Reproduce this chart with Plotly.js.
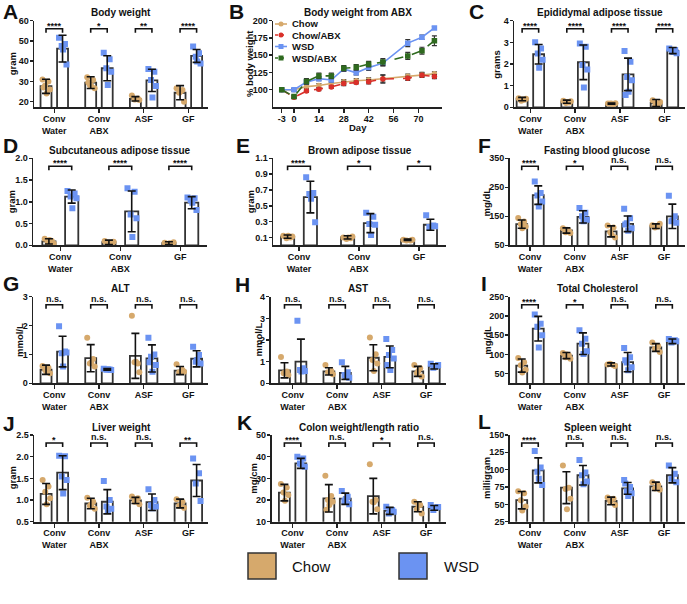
<!DOCTYPE html>
<html><head><meta charset="utf-8">
<script src="https://cdn.plot.ly/plotly-3.0.1.min.js"></script>
<style>html,body{margin:0;padding:0;background:#fff}#chart{width:687px;height:604px}</style>
</head><body><div id="chart"></div>
<script>
// ================= DATA =================
const groups4 = ['Conv<br>Water', 'Conv<br>ABX', 'ASF', 'GF'];
const groups3 = ['Conv<br>Water', 'Conv<br>ABX', 'GF'];

// A Body weight (gram)
const A_chowMean = [27.6, 29.4, 21.4, 24.4];
const A_chowSD = [3.5, 2.9, 1.1, 3.5];
const A_wsdMean = [46.2, 36.5, 30.5, 42.6];
const A_wsdSD = [6.6, 6.2, 5.5, 3.2];
const A_chowPts = [[31, 30, 28, 26, 24, 27], [32, 30.7, 28.2, 26.6, 27.7, 29.5], [23, 21.5, 21, 20.8, 21.2], [26.6, 25.8, 24.4, 20, 25]];
const A_wsdPts = [[51.6, 48.5, 47.5, 38.4, 45.8], [44.2, 40.9, 36.5, 34.8, 28.2], [36.1, 34.8, 30.7, 27.7, 22], [47.2, 43.9, 42.2, 38.9, 39.8]];
const A_sig = ['****', '*', '**', '****'];

// B Body weight from ABX (% body weight)
const B_days = [-3, 0, 7, 14, 21, 28, 35, 42, 50, 64, 72, 79];
const B_chow = [100, 100, 104.5, 106, 109, 111.5, 113, 114, 116, 119.5, 122, 123];
const B_chowErr = [0, 2, 3, 3, 3, 3, 3, 3, 5, 3, 3, 3];
const B_chowABX = [100, 89, 98, 100.5, 104, 109, 110.5, 111.5, 115.5, 116.5, 121, 119];
const B_chowABXErr = [0, 2, 2, 2, 2, 3, 2, 3, 6, 3, 3, 3];
const B_wsd = [100, 100, 111, 116, 114, 130, 124.5, 132, 138.5, 167.5, 176, 189.5];
const B_wsdErr = [0, 2, 3, 3, 3, 3, 3, 4, 4, 5, 3, 2];
const B_wsdABX = [100, 90, 112, 120, 120, 131, 132.5, 137, 140, 149, 156.5, 171];
const B_wsdABXErr = [0, 2, 4, 4, 4, 4, 4, 4, 5, 5, 5, 7];
const B_series = ['Chow', 'Chow/ABX', 'WSD', 'WSD/ABX'];
const B_xticks = [-3, 0, 14, 28, 42, 56, 70];

// C Epididymal adipose tissue (grams)
const C_chowMean = [0.38, 0.26, 0.17, 0.20];
const C_chowSD = [0.08, 0.07, 0.03, 0.16];
const C_wsdMean = [2.45, 2.08, 1.52, 2.62];
const C_wsdSD = [0.45, 0.80, 0.75, 0.14];
const C_chowPts = [[0.42, 0.35, 0.30, 0.40, 0.36], [0.30, 0.22, 0.20, 0.28, 0.25], [0.18, 0.15, 0.17, 0.19, 0.16], [0.32, 0.15, 0.10, 0.25, 0.18]];
const C_wsdPts = [[3.0, 2.72, 2.49, 2.2, 1.83], [2.95, 2.8, 1.95, 1.75, 0.92], [2.6, 2.1, 1.4, 1.25, 0.72, 0.57], [2.72, 2.65, 2.6, 2.5, 2.55]];
const C_sig = ['****', '****', '****', '****'];

// D Subcutaneous adipose tissue (gram)
const D_chowMean = [0.09, 0.07, 0.05];
const D_chowSD = [0.06, 0.05, 0.03];
const D_wsdMean = [1.12, 0.78, 0.98];
const D_wsdSD = [0.15, 0.47, 0.14];
const D_chowPts = [[0.15, 0.10, 0.07, 0.04, 0.12], [0.10, 0.05, 0.03, 0.08, 0.06], [0.06, 0.04, 0.03, 0.07, 0.05]];
const D_wsdPts = [[1.25, 1.19, 1.12, 1.08, 0.85], [1.31, 1.23, 0.71, 0.62, 0.19], [1.10, 1.08, 1.04, 0.81, 0.98]];
const D_sig = ['****', '****', '****'];

// E Brown adipose tissue (gram)
const E_chowMean = [0.11, 0.10, 0.07];
const E_chowSD = [0.02, 0.02, 0.01];
const E_wsdMean = [0.61, 0.28, 0.26];
const E_wsdSD = [0.20, 0.12, 0.07];
const E_chowPts = [[0.12, 0.10, 0.09, 0.11, 0.12], [0.10, 0.09, 0.08, 0.11, 0.10], [0.07, 0.06, 0.06, 0.07]];
const E_wsdPts = [[0.86, 0.66, 0.65, 0.29, 0.59], [0.41, 0.36, 0.27, 0.26, 0.13], [0.38, 0.25, 0.23, 0.24]];
const E_sig = ['****', '*', '*'];

// F Fasting blood glucose (mg/dL)
const F_chowMean = [123, 101, 98, 116];
const F_chowSD = [14, 9, 19, 8];
const F_wsdMean = [223, 148, 124, 150];
const F_wsdSD = [32, 21, 27, 42];
const F_chowPts = [[144, 132, 123, 115, 109], [109, 100, 95, 92, 104], [118, 111, 95, 77, 86], [119, 115, 111, 124]];
const F_wsdPts = [[270, 230, 222, 201, 184], [179, 162, 150, 138, 133], [176, 143, 126, 109, 100, 122], [221, 150, 133, 128, 136]];
const F_sig = ['****', '*', 'n.s.', 'n.s.'];

// G ALT (mmol/L)
const G_chowMean = [0.47, 0.87, 0.95, 0.44];
const G_chowSD = [0.16, 0.47, 0.78, 0.14];
const G_wsdMean = [1.1, 0.48, 0.86, 0.85];
const G_wsdSD = [0.53, 0.03, 0.47, 0.28];
const G_chowPts = [[0.6, 0.54, 0.46, 0.35, 0.4], [1.58, 0.84, 0.69, 0.58, 0.72], [2.34, 0.69, 0.73, 0.38, 0.75], [0.66, 0.46, 0.38, 0.4]];
const G_wsdPts = [[1.98, 1.1, 1.04, 1.07, 0.58], [0.5, 0.48, 0.47, 0.46, 0.49], [1.58, 1.0, 0.92, 0.63, 0.4, 0.73], [1.27, 0.98, 0.75, 0.69, 0.81]];
const G_sig = ['n.s.', 'n.s.', 'n.s.', 'n.s.'];

// H AST (mmol/L)
const H_chowMean = [0.6, 0.55, 1.18, 0.55];
const H_chowSD = [0.35, 0.17, 0.6, 0.23];
const H_wsdMean = [1.0, 0.48, 1.22, 0.78];
const H_wsdSD = [1.04, 0.3, 0.5, 0.12];
const H_chowPts = [[1.22, 0.54, 0.46, 0.38, 0.5], [0.85, 0.57, 0.51, 0.42], [2.12, 1.34, 1.08, 0.92, 0.57], [0.84, 0.69, 0.46, 0.31, 0.57]];
const H_wsdPts = [[2.89, 0.69, 0.62, 0.57, 0.54], [0.97, 0.51, 0.38, 0.26, 0.31], [2.05, 1.54, 1.31, 1.15, 0.62, 0.85], [0.9, 0.8, 0.72, 0.85]];
const H_sig = ['n.s.', 'n.s.', 'n.s.', 'n.s.'];

// I Total Cholesterol (mg/dL)
const I_chowMean = [71, 97, 74, 118];
const I_chowSD = [17, 8, 4, 10];
const I_wsdMean = [167, 128, 80, 134];
const I_wsdSD = [32, 28, 25, 6];
const I_chowPts = [[91, 80, 72, 60, 53], [104, 98, 93, 89, 100], [74, 72, 76, 70], [131, 122, 115, 106]];
const I_wsdPts = [[204, 180, 172, 150, 118], [163, 141, 128, 108, 101], [117, 93, 79, 67, 59, 85], [140, 137, 131, 134]];
const I_sig = ['****', '*', 'n.s.', 'n.s.'];

// J Liver weight (gram)
const J_chowMean = [1.14, 0.92, 0.99, 0.92];
const J_chowSD = [0.24, 0.12, 0.07, 0.1];
const J_wsdMean = [1.63, 0.96, 0.95, 1.45];
const J_wsdSD = [0.39, 0.28, 0.19, 0.37];
const J_chowPts = [[1.46, 1.31, 1.19, 1.04, 0.9], [1.05, 0.96, 0.87, 0.8, 0.9], [1.08, 1.04, 0.96, 0.9, 1.0], [1.02, 0.96, 0.87, 0.82]];
const J_wsdPts = [[2.02, 2.01, 1.54, 1.46, 1.15], [1.44, 1.0, 0.85, 0.8, 0.77], [1.25, 1.0, 0.88, 0.85, 0.81], [1.96, 1.62, 1.38, 0.98]];
const J_sig = ['*', 'n.s.', 'n.s.', '**'];

// K Colon weight/length ratio (mg/cm)
const K_chowMean = [23.4, 20.8, 21.8, 16.9];
const K_chowSD = [3.8, 6.3, 8.2, 2.3];
const K_wsdMean = [36.9, 20.6, 15.0, 16.4];
const K_wsdSD = [2.3, 2.6, 1.6, 1.1];
const K_chowPts = [[27.4, 25.8, 23.5, 22.3, 19.7], [31.2, 21.8, 20, 19.2, 17.7, 15.5], [36.5, 20, 19.2, 15.8, 19], [19.2, 17.7, 15.8, 13.8, 18]];
const K_wsdPts = [[40, 39.2, 36.9, 35.4, 36.5], [24.2, 21.5, 19.5, 18, 20.5], [16.9, 15.4, 13.8, 14.6, 15], [17.7, 16.5, 15.4, 16.8]];
const K_sig = ['****', 'n.s.', '*', 'n.s.'];

// L Spleen weight (milligram)
const L_chowMean = [56, 74, 55, 76];
const L_chowSD = [12.5, 23, 5.5, 6];
const L_wsdMean = [99, 92, 73, 92];
const L_wsdSD = [18, 14, 8.5, 11];
const L_chowPts = [[69, 66, 56, 47, 41], [106, 74, 72, 58, 43], [60, 58, 54, 49], [82, 78, 73, 71]];
const L_wsdPts = [[127, 103, 97, 78, 87], [114, 96, 92, 83, 79], [85, 75, 69, 66, 62, 80], [106, 94, 87, 82]];
const L_sig = ['****', 'n.s.', 'n.s.', 'n.s.'];

const legendLabels = ['Chow', 'WSD'];

// ================= STYLE / LAYOUT =================
const W = 687, H = 604;
const px = x => x / W, py = y => 1 - y / H;
const TAN = '#D6A96C', BLUE = '#6B93F2', RED = '#D9302A', GREEN = '#2F6A1F', DARK = '#222';
const FONT = '"Liberation Sans", Arial, sans-serif';
const JIT = [-0.32, 0.22, -0.08, 0.36, 0.05, -0.22, 0.14];
const R1 = [20.7, 107.3], R2 = [158.3, 245.3], R3 = [296.7, 383.3], R4 = [435, 521.7];
// panel B draws the pre-treatment segment (days < 0) stretched, as in the original figure
const PRE_STRETCH = 2.3;
const dayPos = d => (d < 0 ? d * PRE_STRETCH : d);

const panels = [
  {ax: 1, L: 'A', title: 'Body weight', yt: 'gram', cats: groups4, d: [A_chowMean, A_chowSD, A_wsdMean, A_wsdSD, A_chowPts, A_wsdPts, A_sig],
   xd: [34.3, 208], yd: R1, xr: [-0.447, 3.44], yr: [17.2, 60], tv: [20, 30, 40, 50, 60], ytx: 13.3, lx: 1, ly: 11.5, ty: 12.7},
  {ax: 3, L: 'C', title: 'Epididymal adipose tissue', yt: 'grams', cats: groups4, d: [C_chowMean, C_chowSD, C_wsdMean, C_wsdSD, C_chowPts, C_wsdPts, C_sig],
   xd: [514.3, 685], yd: R1, xr: [-0.36, 3.46], yr: [0, 4], tv: [0, 1, 2, 3, 4], ytx: 496.7, lx: 467, ly: 12, ty: 12.7},
  {ax: 4, L: 'D', title: 'Subcutaneous adipose tissue', yt: 'gram', cats: groups3, d: [D_chowMean, D_chowSD, D_wsdMean, D_wsdSD, D_chowPts, D_wsdPts, D_sig],
   xd: [33.3, 207], yd: R2, xr: [-0.45, 2.445], yr: [0, 2], tv: [0, 0.5, 1, 1.5, 2], fmt: '.1f', ytx: 11.5, lx: 1, ly: 145, ty: 150, three: true},
  {ax: 5, L: 'E', title: 'Brown adipose tissue', yt: 'gram', cats: groups3, d: [E_chowMean, E_chowSD, E_wsdMean, E_wsdSD, E_chowPts, E_wsdPts, E_sig],
   xd: [273.3, 446], yd: R2, xr: [-0.428, 2.45], yr: [0, 1.1], tv: [0.1, 0.3, 0.5, 0.7, 0.9, 1.1], fmt: '.1f', ytx: 250.5, lx: 234, ly: 145, ty: 150, three: true},
  {ax: 6, L: 'F', title: 'Fasting blood glucose', yt: 'mg/dL', cats: groups4, d: [F_chowMean, F_chowSD, F_wsdMean, F_wsdSD, F_chowPts, F_wsdPts, F_sig],
   xd: [510, 685], yd: R2, xr: [-0.447, 3.468], yr: [50, 350], tv: [50, 150, 250, 350], ytx: 486.7, lx: 476, ly: 145, ty: 150},
  {ax: 7, L: 'G', title: 'ALT', yt: 'mmol/L', cats: groups4, d: [G_chowMean, G_chowSD, G_wsdMean, G_wsdSD, G_chowPts, G_wsdPts, G_sig],
   xd: [33.3, 208], yd: R3, xr: [-0.47, 3.44], yr: [0, 3], tv: [0, 1, 2, 3], ytx: 19, lx: 1, ly: 283, ty: 288.3},
  {ax: 8, L: 'H', title: 'AST', yt: 'mmol/L', cats: groups4, d: [H_chowMean, H_chowSD, H_wsdMean, H_wsdSD, H_chowPts, H_wsdPts, H_sig],
   xd: [270.7, 446], yd: R3, xr: [-0.495, 3.45], yr: [0, 4], tv: [0, 1, 2, 3, 4], ytx: 257.5, lx: 233, ly: 284, ty: 288.3},
  {ax: 9, L: 'I', title: 'Total Cholesterol', yt: 'mg/dL', cats: groups4, d: [I_chowMean, I_chowSD, I_wsdMean, I_wsdSD, I_chowPts, I_wsdPts, I_sig],
   xd: [510, 685], yd: R3, xr: [-0.447, 3.468], yr: [25, 250], tv: [50, 100, 150, 200, 250], ytx: 486.7, lx: 479, ly: 283, ty: 288.3},
  {ax: 10, L: 'J', title: 'Liver weight', yt: 'gram', cats: groups4, d: [J_chowMean, J_chowSD, J_wsdMean, J_wsdSD, J_chowPts, J_wsdPts, J_sig],
   xd: [34.3, 208], yd: R4, xr: [-0.45, 3.44], yr: [0.5, 2.5], tv: [0.5, 1, 1.5, 2, 2.5], fmt: '.1f', ytx: 12, lx: 1, ly: 423, ty: 427.3},
  {ax: 11, L: 'K', title: 'Colon weight/length ratio', yt: 'mg/cm', cats: groups4, d: [K_chowMean, K_chowSD, K_wsdMean, K_wsdSD, K_chowPts, K_wsdPts, K_sig],
   xd: [271.7, 446], yd: R4, xr: [-0.47, 3.45], yr: [10, 50], tv: [10, 20, 30, 40, 50], ytx: 253.3, lx: 235, ly: 422.5, ty: 427.3},
  {ax: 12, L: 'L', title: 'Spleen weight', yt: 'milligram', cats: groups4, d: [L_chowMean, L_chowSD, L_wsdMean, L_wsdSD, L_chowPts, L_wsdPts, L_sig],
   xd: [510, 685], yd: R4, xr: [-0.447, 3.468], yr: [25, 150], tv: [25, 50, 75, 100, 125, 150], ytx: 486.7, lx: 476, ly: 421.5, ty: 427.3}
];

const traces = [], annotations = [], shapes = [];
const layout = {
  width: W, height: H, autosize: false, margin: {l: 0, r: 0, t: 0, b: 0},
  paper_bgcolor: '#fff', plot_bgcolor: 'rgba(0,0,0,0)', showlegend: false,
  barmode: 'overlay', font: {family: FONT, color: '#111'}
};
const tickFont = {family: FONT, size: 9, color: '#111', weight: 700};

function axisBase() {
  return {ticks: 'outside', ticklen: 4, tickwidth: 1.5, tickcolor: DARK, showline: true, linecolor: DARK, linewidth: 1.8,
    showgrid: false, zeroline: false, tickfont: tickFont, fixedrange: true, tickangle: 0};
}
function addText(text, x, y, size, opts) {
  annotations.push(Object.assign({text, x: px(x), y: py(y), xref: 'paper', yref: 'paper', showarrow: false,
    xanchor: 'center', yanchor: 'middle', font: {family: FONT, size, color: '#111', weight: 700}}, opts || {}));
}
function frame(p) {
  const s = p.ax === 1 ? '' : p.ax;
  layout['xaxis' + s] = Object.assign(axisBase(), {domain: [px(p.xd[0]), px(p.xd[1])], range: p.xr, anchor: 'y' + s, ticklabelstandoff: -2});
  layout['yaxis' + s] = Object.assign(axisBase(), {domain: [py(p.yd[1]), py(p.yd[0])], range: p.yr, tickvals: p.tv, anchor: 'x' + s, ticklen: 3, ticklabelstandoff: -1});
  if (p.fmt) layout['yaxis' + s].tickformat = p.fmt;
  addText(p.title, (p.xd[0] + p.xd[1]) / 2, p.ty, 10);
  addText(p.yt, p.ytx, (p.yd[0] + p.yd[1]) / 2, 9.5, {textangle: -90});
  addText(p.L, p.lx, p.ly, 21, {xanchor: 'left'});
  return s;
}

panels.forEach(p => {
  const s = frame(p);
  const xa = 'x' + s, ya = 'y' + s;
  const [cm, cs, wm, ws, cp, wp, sig] = p.d;
  const off = p.three ? 0.19 : 0.185, bw = p.three ? 0.22 : 0.245;
  const idx = cm.map((_, i) => i);
  layout['xaxis' + s].tickvals = idx;
  layout['xaxis' + s].ticktext = p.cats;
  const xc = idx.map(i => i - off), xw = idx.map(i => i + off);
  [[xc, cm], [xw, wm]].forEach(([xx, yy]) => traces.push({type: 'bar', x: xx, y: yy, width: bw, xaxis: xa, yaxis: ya,
    marker: {color: '#fff', line: {color: '#333', width: 1.8}}, hoverinfo: 'skip'}));
  const spread = (arr, xs) => {
    const X = [], Y = [];
    arr.forEach((g, i) => g.forEach((v, j) => { X.push(xs[i] + JIT[j % JIT.length] * bw); Y.push(v); }));
    return [X, Y];
  };
  const [cx, cy] = spread(cp, xc), [wx, wy] = spread(wp, xw);
  traces.push({type: 'scatter', mode: 'markers', x: cx, y: cy, xaxis: xa, yaxis: ya, marker: {symbol: 'circle', size: 6, color: TAN}, hoverinfo: 'skip'});
  traces.push({type: 'scatter', mode: 'markers', x: wx, y: wy, xaxis: xa, yaxis: ya, marker: {symbol: 'square', size: 6, color: BLUE}, hoverinfo: 'skip'});
  [[xc, cm, cs], [xw, wm, ws]].forEach(([xx, yy, ee]) => traces.push({type: 'scatter', mode: 'markers', x: xx, y: yy, xaxis: xa, yaxis: ya,
    marker: {size: 1, color: 'rgba(0,0,0,0)'}, error_y: {type: 'data', array: ee, visible: true, color: '#111', thickness: 1.6, width: 4}, hoverinfo: 'skip', cliponaxis: false}));
  // significance brackets
  const hpx = p.yd[1] - p.yd[0];
  const yTop = 1 - 8 / hpx, yLeg = 1 - 12 / hpx;
  sig.forEach((t, i) => {
    shapes.push({type: 'path', xref: xa, yref: ya + ' domain', path: `M${xc[i]},${yLeg} L${xc[i]},${yTop} L${xw[i]},${yTop} L${xw[i]},${yLeg}`,
      line: {color: '#111', width: 1.6}});
    annotations.push({text: t, x: i, xref: xa, y: yTop, yref: ya + ' domain', showarrow: false, xanchor: 'center', yanchor: 'bottom',
      yshift: t.startsWith('*') ? -4 : -1, font: {family: FONT, size: 9, color: '#111', weight: 700}});
  });
});

// ---- Panel B: line chart ----
(function () {
  const p = {ax: 2, L: 'B', title: 'Body weight from ABX', yt: '% body weight', xd: [273.3, 441.7], yd: R1, xr: [-11.65, 83.1], yr: [74.5, 200],
    tv: [100, 125, 150, 175, 200], ytx: 250, lx: 227, ly: 11.5, ty: 12.7};
  frame(p);
  layout.xaxis2.tickvals = B_xticks.map(dayPos);
  layout.xaxis2.ticktext = B_xticks.map(String);
  addText('Day', (p.xd[0] + p.xd[1]) / 2, 127, 9.5);
  const xs = B_days.map(dayPos);
  const defs = [
    [B_chow, B_chowErr, TAN, 'solid', 'circle'],
    [B_chowABX, B_chowABXErr, RED, 'dash', 'circle'],
    [B_wsd, B_wsdErr, BLUE, 'solid', 'square'],
    [B_wsdABX, B_wsdABXErr, GREEN, 'dash', 'square']
  ];
  defs.forEach(([y, e, c, dash, sym], k) => {
    traces.push({type: 'scatter', mode: 'lines+markers', x: xs, y, name: B_series[k], xaxis: 'x2', yaxis: 'y2',
      line: {color: c, width: 1.6, dash}, marker: {color: c, size: 5.5, symbol: sym},
      error_y: {type: 'data', array: e, visible: true, color: '#333', thickness: 1.2, width: 2.5}, hoverinfo: 'skip'});
    const ly = [24, 35, 46.5, 58][k];
    shapes.push({type: 'line', xref: 'paper', yref: 'paper', x0: px(275), x1: px(287), y0: py(ly), y1: py(ly), line: {color: c, width: 1.6, dash: dash === 'dash' ? 'dot' : 'solid'}});
    shapes.push({type: sym === 'circle' ? 'circle' : 'rect', xref: 'paper', yref: 'paper', x0: px(278.5), x1: px(283.5), y0: py(ly + 2.5), y1: py(ly - 2.5), fillcolor: c, line: {width: 0}});
    addText(B_series[k], 290, ly, 9.5, {xanchor: 'left'});
  });
})();

// ---- bottom legend ----
[[TAN, 248, 290], [BLUE, 399, 442]].forEach(([c, x0, tx], k) => {
  shapes.push({type: 'rect', xref: 'paper', yref: 'paper', x0: px(x0), x1: px(x0 + 28), y0: py(579), y1: py(553), fillcolor: c, line: {color: '#333', width: 1.5}});
  annotations.push({text: legendLabels[k], x: px(tx), y: py(566), xref: 'paper', yref: 'paper', showarrow: false, xanchor: 'left', yanchor: 'middle',
    font: {family: FONT, size: 15, color: '#111'}});
});

layout.annotations = annotations;
layout.shapes = shapes;
Plotly.newPlot('chart', traces, layout, {staticPlot: true, displayModeBar: false});
</script>
</body></html>
